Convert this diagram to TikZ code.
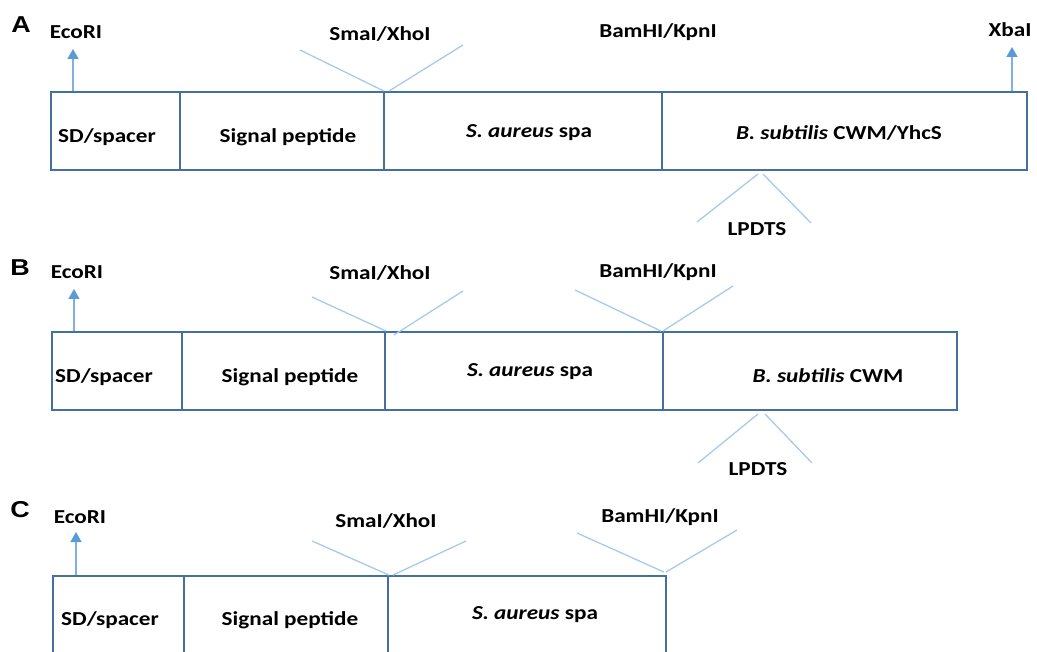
\documentclass[tikz,border=0pt]{standalone}
\usepackage{fontspec}
\setmainfont{Carlito}
\newfontfamily\labfont{Liberation Sans}
\usetikzlibrary{arrows.meta}
\definecolor{boxc}{HTML}{44709F}
\definecolor{arrc}{HTML}{5B9BD5}
\definecolor{stemc}{HTML}{7FB0E0}
\definecolor{vc}{HTML}{A7CAEB}
\newcommand{\hs}[1]{\scalebox{1.17}[1]{#1}}
\tikzset{
  seg/.style={draw=boxc, line width=1.9pt, rectangle, inner sep=0pt},
  txt/.style={font=\fontsize{19.8}{22}\selectfont\bfseries, inner sep=0pt},
  panel/.style={font=\labfont\fontsize{23}{26}\selectfont\bfseries, inner sep=0pt},
  site/.style={stemc, line width=1.6pt, -{Triangle[width=11pt,length=10pt,fill=arrc,color=arrc]}},
  vline/.style={vc, line width=1.3pt},
}
\begin{document}
\begin{tikzpicture}[x=1pt,y=-1pt]
\useasboundingbox (0,0) rectangle (1037,652);
\clip (0,0) rectangle (1037,652);

% ---------------- Panel A ----------------
\node[panel] (pA) at (21,25) {\hs{A}};
\node[seg, minimum width=129pt, minimum height=78pt] (a1) at (115.5,131) {};
\node[seg, minimum width=204pt, minimum height=78pt] (a2) at (282,131) {};
\node[seg, minimum width=278pt, minimum height=78pt] (a3) at (523,131) {};
\node[seg, minimum width=365pt, minimum height=78pt] (a4) at (844.5,131) {};
\node[txt] (ta1) at (107,137) {\hs{SD/spacer}};
\node[txt] (ta2) at (288,137) {\hs{Signal peptide}};
\node[txt] (ta3) at (529,133) {\hs{\textit{S. aureus} spa}};
\node[txt] (ta4) at (839,133) {\hs{\textit{B. subtilis} CWM/YhcS}};

\node[txt] (ecoA) at (76,32) {\hs{EcoRI}};
\coordinate (ecoAt) at (73,49);
\draw[site] (ecoAt |- a1.north) -- (ecoAt);
\node[txt] (smaA) at (380,34) {\hs{SmaI/XhoI}};
\coordinate (smaAl) at (300,50);
\coordinate (smaAr) at (463,45);
\draw[vline] (smaAl) -- ([xshift=-1pt]a2.north east);
\draw[vline] (smaAr) -- ([xshift=4pt]a2.north east);
\node[txt] (bamA) at (658,32) {\hs{BamHI/KpnI}};
\node[txt] (xbaA) at (1010,30) {\hs{XbaI}};
\coordinate (xbaAt) at (1012,47);
\draw[site] (xbaAt |- a4.north) -- (xbaAt);
\coordinate (lpAtl) at (758,174);
\coordinate (lpAtr) at (763,174);
\coordinate (lpAl) at (697,222);
\coordinate (lpAr) at (811,223);
\draw[vline] (lpAtl) -- (lpAl);
\draw[vline] (lpAtr) -- (lpAr);
\node[txt] (lpA) at (757,229) {\hs{LPDTS}};

% ---------------- Panel B ----------------
\node[panel] (pB) at (20,268) {\hs{B}};
\node[seg, minimum width=130pt, minimum height=78pt] (b1) at (117,371) {};
\node[seg, minimum width=203pt, minimum height=78pt] (b2) at (283.5,371) {};
\node[seg, minimum width=278pt, minimum height=78pt] (b3) at (524,371) {};
\node[seg, minimum width=294pt, minimum height=78pt] (b4) at (810,371) {};
\node[txt] (tb1) at (104,377) {\hs{SD/spacer}};
\node[txt] (tb2) at (290,377) {\hs{Signal peptide}};
\node[txt] (tb3) at (530,372) {\hs{\textit{S. aureus} spa}};
\node[txt] (tb4) at (828,376) {\hs{\textit{B. subtilis} CWM}};

\node[txt] (ecoB) at (77,272) {\hs{EcoRI}};
\coordinate (ecoBt) at (74,289);
\draw[site] (ecoBt |- b1.north) -- (ecoBt);
\node[txt] (smaB) at (380,273) {\hs{SmaI/XhoI}};
\coordinate (smaBl) at (312,297);
\coordinate (smaBr) at (463,291);
\coordinate (smaBe) at (394,335);
\draw[vline] (smaBl) -- (b2.north east);
\draw[vline] (smaBr) -- (smaBe);
\node[txt] (bamB) at (658,272) {\hs{BamHI/KpnI}};
\coordinate (bamBl) at (575,290);
\coordinate (bamBr) at (733,286);
\draw[vline] (bamBl) -- ([xshift=-3pt]b3.north east);
\draw[vline] (bamBr) -- ([xshift=-1pt]b3.north east);
\coordinate (lpBtl) at (758,414);
\coordinate (lpBtr) at (765,414);
\coordinate (lpBl) at (698,463);
\coordinate (lpBr) at (812,463);
\draw[vline] (lpBtl) -- (lpBl);
\draw[vline] (lpBtr) -- (lpBr);
\node[txt] (lpB) at (758,469) {\hs{LPDTS}};

% ---------------- Panel C ----------------
\node[panel] (pC) at (20,510) {\hs{C}};
\node[seg, minimum width=131pt, minimum height=124pt] (c1) at (118.5,638) {};
\node[seg, minimum width=204pt, minimum height=124pt] (c2) at (286,638) {};
\node[seg, minimum width=278pt, minimum height=124pt] (c3) at (527,638) {};
\node[txt] (tc1) at (110,620) {\hs{SD/spacer}};
\node[txt] (tc2) at (290,620) {\hs{Signal peptide}};
\node[txt] (tc3) at (535,615) {\hs{\textit{S. aureus} spa}};

\node[txt] (ecoC) at (80,517) {\hs{EcoRI}};
\coordinate (ecoCt) at (76,532);
\draw[site] (ecoCt |- c1.north) -- (ecoCt);
\node[txt] (smaC) at (386,521) {\hs{SmaI/XhoI}};
\coordinate (smaCl) at (312,541);
\coordinate (smaCr) at (466,541);
\draw[vline] (smaCl) -- (c2.north east);
\draw[vline] (smaCr) -- ([xshift=4pt]c2.north east);
\node[txt] (bamC) at (660,517) {\hs{BamHI/KpnI}};
\coordinate (bamCl) at (577,533);
\coordinate (bamCr) at (737,530);
\draw[vline] (bamCl) -- ([xshift=-3pt,yshift=3pt]c3.north east);
\draw[vline] (bamCr) -- ([xshift=-1pt,yshift=3pt]c3.north east);
\end{tikzpicture}
\end{document}
